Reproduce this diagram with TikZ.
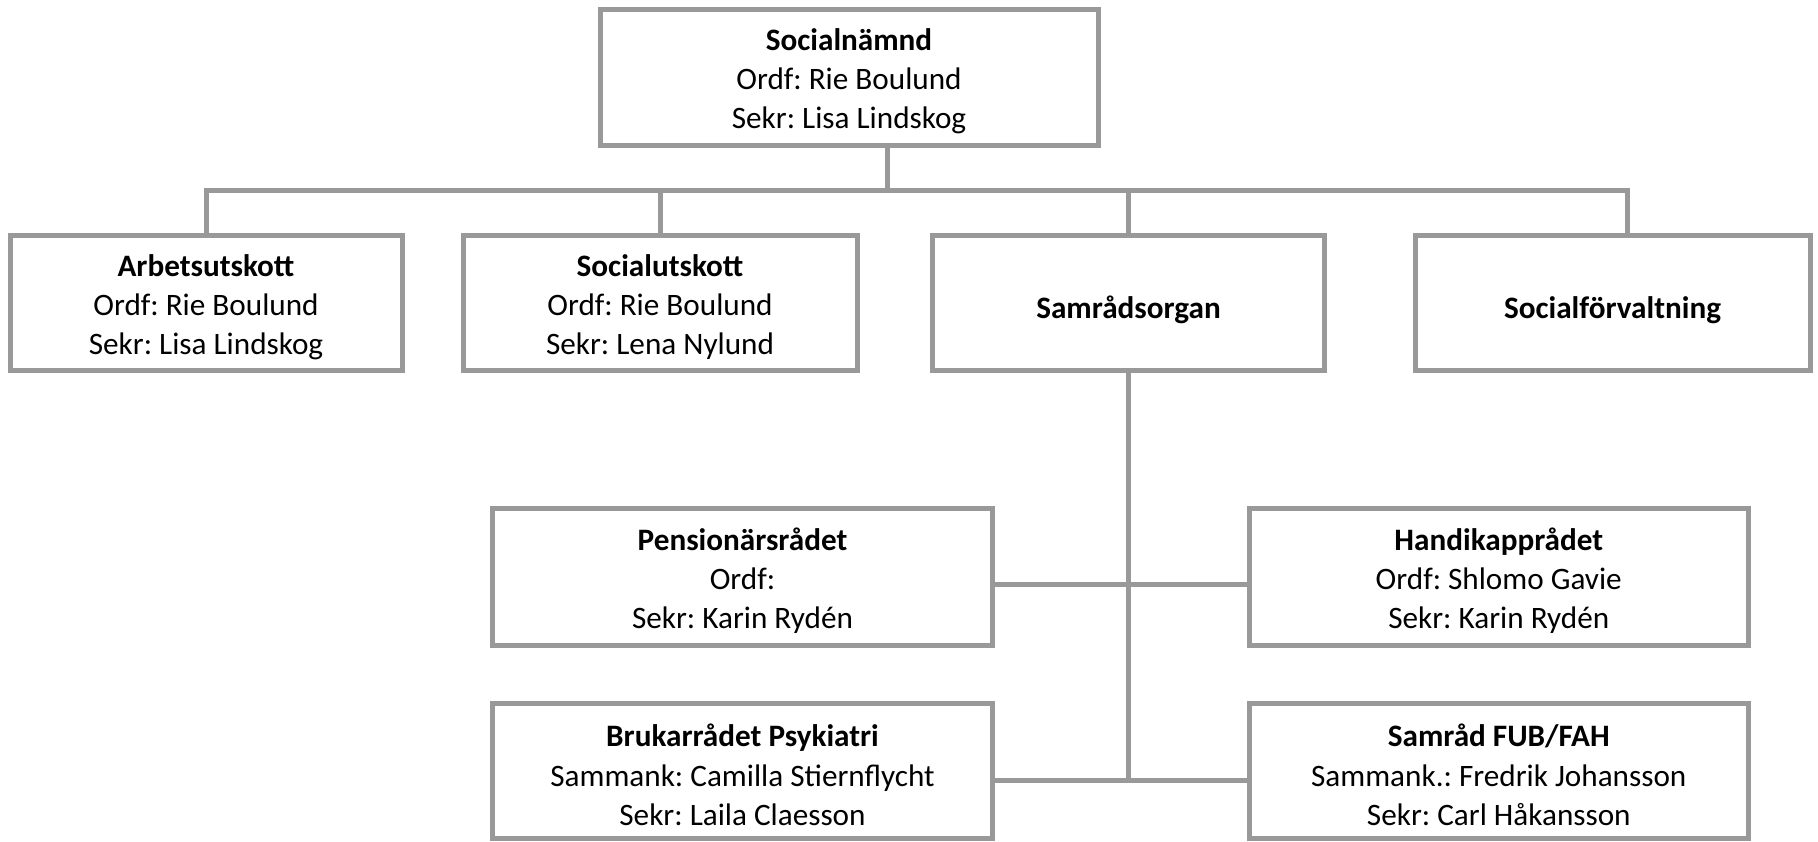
\documentclass[tikz,border=0pt]{standalone}
\usepackage{fontspec}
\setmainfont{Carlito}
\frenchspacing
\definecolor{linegray}{RGB}{153,153,153}
\begin{document}
\begin{tikzpicture}[x=0.5pt,y=-0.5pt,
  orgbox/.style={draw=linegray, line width=2.5pt, fill=white, inner sep=0pt},
  txt/.style={align=center, inner sep=0pt, font=\fontsize{15.6pt}{19.6pt}\selectfont},
  conn/.style={draw=linegray, line width=2.5pt, line join=miter}]
\useasboundingbox (0,0) rectangle (1818,841);
% top
\node[orgbox, minimum width=249pt, minimum height=68pt] (top) at (849,77.5) {};
% second row
\node[orgbox, minimum width=196pt, minimum height=67.5pt] (arb) at (206,303) {};
\node[orgbox, minimum width=197pt, minimum height=67.5pt] (sut) at (660,303) {};
\node[orgbox, minimum width=196pt, minimum height=67.5pt] (sam) at (1128.5,303) {};
\node[orgbox, minimum width=197.5pt, minimum height=67.5pt] (forv) at (1612.5,303) {};
% lower
\node[orgbox, minimum width=250pt, minimum height=68.5pt] (pen) at (742.5,576.5) {};
\node[orgbox, minimum width=249.5pt, minimum height=68.5pt] (hand) at (1498.75,576.5) {};
\node[orgbox, minimum width=250pt, minimum height=67.5pt] (bruk) at (742.5,771) {};
\node[orgbox, minimum width=249.5pt, minimum height=67.5pt] (fub) at (1498.75,771) {};
% texts
\node[txt] (top-t) at ([yshift=-2pt]top.center)
  {\textbf{Socialnämnd}\\Ordf: Rie Boulund\\Sekr: Lisa Lindskog};
\node[txt] (arb-t) at ([yshift=-2pt]arb.center)
  {\textbf{Arbetsutskott}\\Ordf: Rie Boulund\\Sekr: Lisa Lindskog};
\node[txt] (sut-t) at ([yshift=-2pt]sut.center)
  {\textbf{Socialutskott}\\Ordf: Rie Boulund\\Sekr: Lena Nylund};
\node[txt] (sam-t) at ([yshift=-3.5pt]sam.center) {\textbf{Samrådsorgan}};
\node[txt] (forv-t) at ([yshift=-3.5pt]forv.center) {\textbf{Socialförvaltning}};
\node[txt] (pen-t) at ([yshift=-2pt]pen.center)
  {\textbf{Pensionärsrådet}\\Ordf:\\Sekr: Karin Rydén};
\node[txt] (hand-t) at ([yshift=-2pt]hand.center)
  {\textbf{Handikapprådet}\\Ordf: Shlomo Gavie\\Sekr: Karin Rydén};
\node[txt] (bruk-t) at ([yshift=-2pt]bruk.center)
  {\textbf{Brukarrådet Psykiatri}\\Sammank: Camilla Stiernflycht\\Sekr: Laila Claesson};
\node[txt] (fub-t) at ([yshift=-2pt]fub.center)
  {\textbf{Samråd FUB/FAH}\\Sammank.: Fredrik Johansson\\Sekr: Carl Håkansson};
% connector coordinates
\coordinate (tj) at (887,190.5);
\coordinate (busL) at (206,190.5);
\coordinate (busR) at (1627,190.5);
\coordinate (c1) at (1128.5,584.5);
\coordinate (c2) at (1128.5,780);
% connectors
\draw[conn] (tj |- top.south) -- (tj);
\draw[conn] (arb.north) -- (busL) -- (busR) -- (busR |- forv.north);
\draw[conn] (sut.north) -- (sut.north |- busL);
\draw[conn] (sam.north) -- (sam.north |- busL);
\draw[conn] (sam.south) -- (c2);
\draw[conn] (pen.east |- c1) -- (hand.west |- c1);
\draw[conn] (bruk.east |- c2) -- (fub.west |- c2);
\end{tikzpicture}
\end{document}
